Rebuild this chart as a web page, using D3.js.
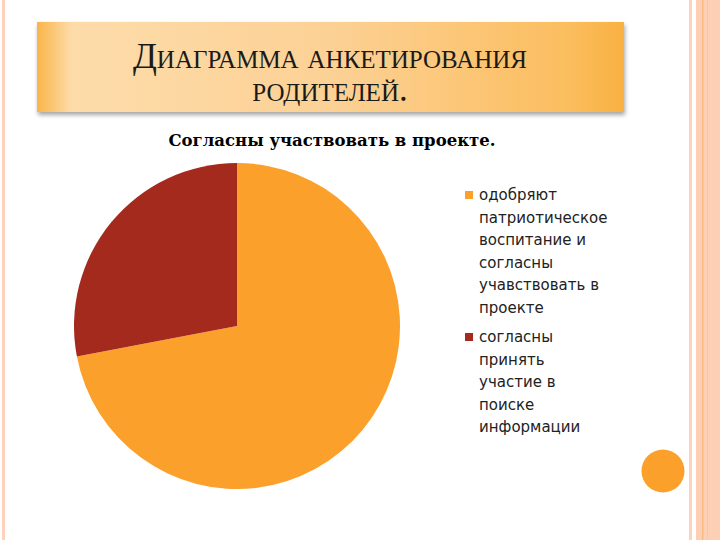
<!DOCTYPE html>
<html><head><meta charset="utf-8">
<script src="https://cdn.jsdelivr.net/npm/d3@7"></script>
<style>body{margin:0;background:#fff}</style></head>
<body><svg id="c" width="720" height="540"></svg>
<script>
const categories = ["одобряют патриотическое воспитание и согласны учавствовать в проекте", "согласны принять участие в поиске информации"];
const values = [72, 28];
const legendLines = [["одобряют","патриотическое","воспитание и","согласны","учавствовать в","проекте"],["согласны","принять","участие в","поиске","информации"]];
const colors = ["#FBA12B", "#A52A1E"];

const svg = d3.select("#c");
const defs = svg.append("defs");
const g = defs.append("linearGradient").attr("id","bg");
[[0,"#F9B548"],[0.06,"#FDDCAA"],[0.5,"#FCD195"],[0.9,"#FBBE60"],[1,"#F9B142"]].forEach(s=>g.append("stop").attr("offset",s[0]).attr("stop-color",s[1]));
const f = defs.append("filter").attr("id","sh").attr("x","-5%").attr("y","-10%").attr("width","110%").attr("height","130%");
f.append("feDropShadow").attr("dx",1).attr("dy",3).attr("stdDeviation",2).attr("flood-opacity",0.35);

svg.append("rect").attr("x",2).attr("y",0).attr("width",3).attr("height",540).attr("fill","#FDD3BD");
svg.append("rect").attr("x",689).attr("y",0).attr("width",3).attr("height",540).attr("fill","#FDD3BD");
svg.append("rect").attr("x",696).attr("y",0).attr("width",24).attr("height",540).attr("fill","#FDD0B5");
svg.append("rect").attr("x",702).attr("y",0).attr("width",1.5).attr("height",540).attr("fill","#FBB984");
svg.append("rect").attr("x",707).attr("y",0).attr("width",1).attr("height",540).attr("fill","#FCC6A0");
svg.append("circle").attr("cx",663).attr("cy",471).attr("r",21.5).attr("fill","#FBA12B");

svg.append("rect").attr("x",37).attr("y",22).attr("width",587).attr("height",90).attr("fill","url(#bg)").attr("filter","url(#sh)");
[["Диаграмма анкетирования",68],["родителей.",101]].forEach(([s,y])=>
  svg.append("text").attr("x",330).attr("y",y).attr("text-anchor","middle").attr("font-family","Liberation Serif, serif")
    .attr("font-size",35).style("font-variant","small-caps").attr("fill","#1a1a1a").text(s));

svg.append("text").attr("x",332).attr("y",146).attr("text-anchor","middle").attr("font-family","DejaVu Serif, serif")
  .attr("font-weight","bold").attr("font-size",16.5).text("Согласны участвовать в проекте.");

const pie = d3.pie().sort(null).value(d=>d);
const arc = d3.arc().innerRadius(0).outerRadius(163);
svg.append("g").attr("transform","translate(237,326)").selectAll("path").data(pie(values)).join("path")
  .attr("d",arc).attr("fill",(d,i)=>colors[i]);

const ly = [196, 338];
legendLines.forEach((lines,i)=>{
  svg.append("rect").attr("x",465).attr("y",ly[i]-5).attr("width",8).attr("height",8).attr("fill",colors[i]);
  const tx = svg.append("text").attr("font-family","DejaVu Sans, sans-serif").attr("font-size",15).attr("fill","#222");
  lines.forEach((l,j)=>tx.append("tspan").attr("x",479).attr("y",ly[i]+4+j*22.5).text(l));
});
</script></body></html>
